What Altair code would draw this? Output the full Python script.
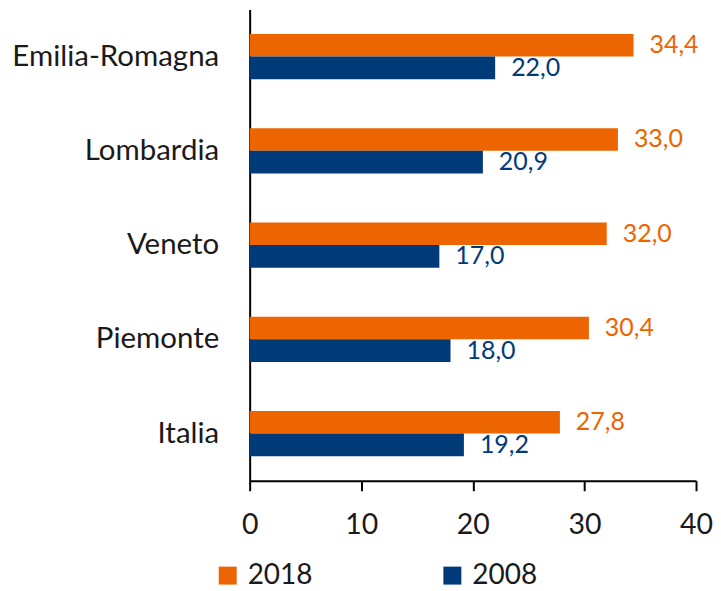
import altair as alt
import pandas as pd

regions = ["Emilia-Romagna", "Lombardia", "Veneto", "Piemonte", "Italia"]
v2018 = [34.4, 33.0, 32.0, 30.4, 27.8]
v2008 = [22.0, 20.9, 17.0, 18.0, 19.2]
years = ["2018", "2008"]
colors = ["#EC6500", "#003A78"]
x_ticks = [0, 10, 20, 30, 40]

rows = []
for r, a, b in zip(regions, v2018, v2008):
    rows.append({"regione": r, "anno": "2018", "valore": a})
    rows.append({"regione": r, "anno": "2008", "valore": b})
df = pd.DataFrame(rows)

FONT = "Lato"
color_scale = alt.Scale(domain=years, range=colors)

base = alt.Chart(df).transform_calculate(
    label="replace(format(datum.valore, '.1f'), '.', ',')"
).encode(
    y=alt.Y(
        "regione:N",
        sort=regions,
        scale=alt.Scale(paddingInner=0.52, paddingOuter=0.26),
        axis=alt.Axis(
            title=None, ticks=False, domainColor="black", domainWidth=2,
            labelFontSize=29.5, labelColor="#1a1a1a", labelPadding=31,
            labelFont=FONT, labelLimit=400, minExtent=242, maxExtent=242,
        ),
    ),
    yOffset=alt.YOffset(
        "anno:N", sort=years,
        scale=alt.Scale(domain=years, paddingInner=0, paddingOuter=0),
    ),
    x=alt.X(
        "valore:Q",
        scale=alt.Scale(domain=[0, 40], nice=False),
        axis=alt.Axis(
            values=x_ticks, title=None, grid=False, domainColor="black",
            domainWidth=2, tickColor="black", tickWidth=2, tickSize=10,
            labelFontSize=28.5, labelColor="#1a1a1a", labelFont=FONT,
            labelPadding=20, labelFlush=False,
        ),
    ),
)

bars = base.mark_bar().encode(
    color=alt.Color(
        "anno:N", scale=color_scale, sort=years,
        legend=alt.Legend(
            title=None, orient="none", legendX=-36, legendY=553,
            direction="horizontal", symbolType="square", symbolSize=324,
            symbolStrokeWidth=0, labelFontSize=28, labelFont=FONT,
            labelColor="#1a1a1a", labelOffset=6, columnPadding=126,
            padding=0,
        ),
    )
)

text = base.mark_text(align="left", baseline="middle", dx=16, fontSize=25, font=FONT).encode(
    text="label:N",
    color=alt.Color("anno:N", scale=color_scale, legend=None),
)

chart = alt.layer(bars, text).properties(
    width=447, height=472,
    padding={"left": 0, "top": 1, "right": 0, "bottom": 0},
).configure_view(stroke=None)

chart.save("out.html", embed_options={"renderer": "svg", "actions": False})
